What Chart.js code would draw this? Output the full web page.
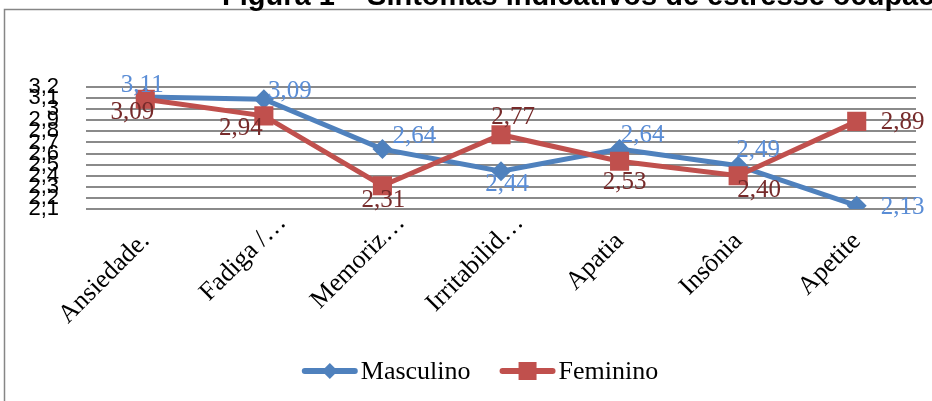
<!DOCTYPE html>
<html>
<head>
<meta charset="utf-8">
<script src="https://cdn.jsdelivr.net/npm/chart.js@4"></script>
<style>
  html, body { margin: 0; padding: 0; background: #fff; }
  #wrap { width: 932px; height: 401px; position: relative; }
</style>
</head>
<body>
<div id="wrap"><canvas id="c" width="932" height="401"></canvas></div>
<script>
// Symptom categories (x axis)
const categories = ['Ansiedade.', 'Fadiga /…', 'Memoriz…', 'Irritabilid…', 'Apatia', 'Insônia', 'Apetite'];
// Mean scores per sex
const masculino = [3.11, 3.09, 2.64, 2.44, 2.64, 2.49, 2.13];
const feminino  = [3.09, 2.94, 2.31, 2.77, 2.53, 2.40, 2.89];
// Value-axis tick labels
const yTickLabels = ['2,1', '2,2', '2,3', '2,4', '2,5', '2,6', '2,7', '2,8', '2,9', '3', '3,1', '3,2'];

const titleText = 'Figura 1 – Sintomas indicativos de estresse ocupacional';

const BLUE = '#4F81BD';
const RED = '#C0504D';

// Where each data label sits relative to its point (pixels)
const mascLabelOffsets = [[-3, -12], [26, -8], [32, -13], [6, 13], [23, -14], [20, -15], [46, 2]];
const femLabelOffsets  = [[-13, 13], [-23, 13], [1, 15], [12, -17], [5, 21], [21, 15], [46, 1]];

const fmt2 = v => v.toFixed(2).replace('.', ',');

const framePlugin = {
  id: 'frame',
  beforeDraw(chart) {
    const ctx = chart.ctx;
    ctx.save();
    ctx.fillStyle = '#fff';
    ctx.fillRect(0, 0, chart.width, chart.height);
    // outer chart border
    ctx.strokeStyle = '#868686';
    ctx.lineWidth = 1.5;
    ctx.beginPath();
    ctx.moveTo(4.5, chart.height + 2);
    ctx.lineTo(4.5, 9.5);
    ctx.lineTo(chart.width + 2, 9.5);
    ctx.stroke();
    // figure caption above the chart
    ctx.fillStyle = '#000';
    ctx.font = 'bold 29px "Liberation Sans", Arial, sans-serif';
    ctx.textBaseline = 'alphabetic';
    ctx.textAlign = 'left';
    ctx.fillText(titleText, 222, 5);
    ctx.restore();
  }
};

// Slanted category labels; truncated names let the ellipsis run past the tick
const categoryLabelPlugin = {
  id: 'slantedCategoryLabels',
  afterDraw(chart) {
    const xs = chart.scales.x;
    const ctx = chart.ctx;
    ctx.save();
    ctx.font = '26px "Liberation Serif", "Times New Roman", serif';
    ctx.fillStyle = '#000';
    ctx.textBaseline = 'alphabetic';
    ctx.textAlign = 'left';
    categories.forEach((lab, i) => {
      const x = xs.getPixelForTick(i) + 5;
      const y = chart.chartArea.bottom + 33;
      const core = lab.replace(/…$/, '');
      const w = ctx.measureText(core).width;
      ctx.save();
      ctx.translate(x, y);
      ctx.rotate(-Math.PI / 4);
      ctx.fillText(lab, -w, 0);
      ctx.restore();
    });
    ctx.restore();
  }
};

const labelPlugin = {
  id: 'valueLabels',
  afterDatasetsDraw(chart) {
    const ctx = chart.ctx;
    ctx.save();
    ctx.font = '25px "Liberation Serif", "Times New Roman", serif';
    ctx.textAlign = 'center';
    ctx.textBaseline = 'middle';
    const sets = [
      { idx: 0, color: '#5A8DD6', offs: mascLabelOffsets },
      { idx: 1, color: '#772B2B', offs: femLabelOffsets }
    ];
    sets.forEach(s => {
      const meta = chart.getDatasetMeta(s.idx);
      const data = chart.data.datasets[s.idx].data;
      meta.data.forEach((pt, i) => {
        ctx.fillStyle = s.color;
        ctx.fillText(fmt2(data[i]), pt.x + s.offs[i][0], pt.y + s.offs[i][1]);
      });
    });
    ctx.restore();
  }
};

const legendPlugin = {
  id: 'lineLegend',
  afterDraw(chart) {
    const ctx = chart.ctx;
    ctx.save();
    ctx.font = '26px "Liberation Serif", "Times New Roman", serif';
    ctx.textBaseline = 'middle';
    ctx.textAlign = 'left';
    const items = chart.data.datasets.map(d => ({ text: d.label, color: d.borderColor, style: d.pointStyle }));
    const sym = 56, gapSym = 3, gapItem = 29;
    let total = 0;
    items.forEach((it, i) => {
      total += sym + gapSym + ctx.measureText(it.text).width + (i < items.length - 1 ? gapItem : 0);
    });
    let x = 480 - total / 2;
    const y = 371;
    items.forEach(it => {
      ctx.strokeStyle = it.color;
      ctx.lineWidth = 6;
      ctx.lineCap = 'round';
      ctx.beginPath();
      ctx.moveTo(x + 3, y);
      ctx.lineTo(x + sym - 3, y);
      ctx.stroke();
      ctx.fillStyle = it.color;
      const cx = x + sym / 2;
      ctx.beginPath();
      if (it.style === 'rectRot') {
        ctx.moveTo(cx, y - 8);
        ctx.lineTo(cx + 8, y);
        ctx.lineTo(cx, y + 8);
        ctx.lineTo(cx - 8, y);
      } else {
        ctx.rect(cx - 9, y - 9, 18, 18);
      }
      ctx.closePath();
      ctx.fill();
      ctx.fillStyle = '#000';
      ctx.fillText(it.text, x + sym + gapSym, y + 1);
      x += sym + gapSym + ctx.measureText(it.text).width + gapItem;
    });
    ctx.restore();
  }
};

new Chart(document.getElementById('c'), {
  type: 'line',
  data: {
    labels: categories,
    datasets: [
      {
        label: 'Masculino',
        data: masculino,
        borderColor: BLUE,
        backgroundColor: BLUE,
        pointBackgroundColor: BLUE,
        pointBorderColor: BLUE,
        borderWidth: 5,
        pointStyle: 'rectRot',
        pointRadius: 10,
        pointBorderWidth: 0,
        tension: 0,
        order: 1
      },
      {
        label: 'Feminino',
        data: feminino,
        borderColor: RED,
        backgroundColor: RED,
        pointBackgroundColor: RED,
        pointBorderColor: RED,
        borderWidth: 5,
        pointStyle: 'rect',
        pointRadius: 13.5,
        pointBorderWidth: 0,
        tension: 0,
        order: 0
      }
    ]
  },
  options: {
    responsive: false,
    animation: false,
    layout: { padding: { left: 0, right: 16, top: 87, bottom: 62 } },
    plugins: {
      legend: { display: false },
      tooltip: { enabled: false },
      title: { display: false }
    },
    scales: {
      x: {
        offset: true,
        grid: { display: false, drawTicks: false },
        border: { display: false },
        ticks: { display: false, autoSkip: false },
        afterFit(scale) { scale.height = 130; }
      },
      y: {
        min: 2.1,
        max: 3.2,
        grid: { color: '#8a8a8a', lineWidth: 2, drawTicks: false },
        border: { display: false },
        ticks: {
          stepSize: 0.1,
          autoSkip: false,
          padding: 27,
          color: '#000',
          font: { family: '"Liberation Sans", Arial, sans-serif', size: 22 },
          callback: (v, i) => yTickLabels[i] ?? String(v).replace('.', ',')
        },
        afterFit(scale) { scale.width = 86; }
      }
    }
  },
  plugins: [framePlugin, categoryLabelPlugin, labelPlugin, legendPlugin]
});
</script>
</body>
</html>
